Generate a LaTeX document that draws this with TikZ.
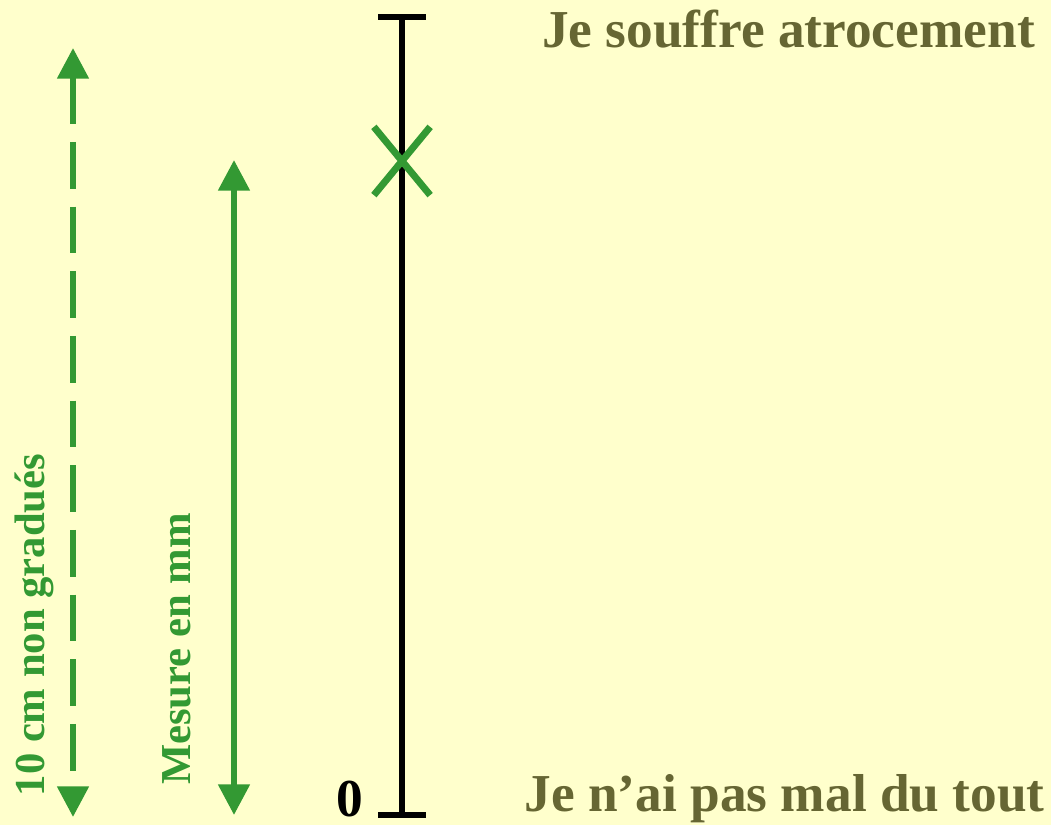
\documentclass[tikz,border=0pt]{standalone}
\usepackage{fontspec}
\setmainfont{Liberation Serif}
\usetikzlibrary{arrows.meta,shapes.misc}
\definecolor{paper}{HTML}{FFFFCC}
\definecolor{olive}{HTML}{666633}
\definecolor{leaf}{HTML}{339933}
\tikzset{
  every node/.style={inner sep=0pt, font=\fontsize{40}{48}\selectfont\bfseries},
  endlabel/.style={text=olive, anchor=base east},
  sidelabel/.style={text=leaf, rotate=90, anchor=base, font=\fontsize{32}{38}\selectfont\bfseries},
  scaleline/.style={draw=black, line width=4.5pt},
  span/.style={{Triangle[length=23pt,width=23pt]}-{Triangle[length=23pt,width=23pt]}, draw=leaf, line width=4.5pt},
  markx/.style={cross out, draw=leaf, line width=5.2pt, minimum width=37pt, minimum height=46pt},
}
\begin{document}
\begin{tikzpicture}[x=0.75pt, y=-0.75pt]
  \fill[paper] (0,0) rectangle (1051,825);
  \useasboundingbox (0,0) rectangle (1051,825);

  % the 10 cm scale
  \coordinate (top) at (402,17);
  \coordinate (bot) at (402,815);
  \draw[scaleline] (top) -- (bot);
  \draw[scaleline] ([xshift=-18pt]top) -- ([xshift=18pt]top);
  \draw[scaleline] ([xshift=-18pt]bot) -- ([xshift=18pt]bot);
  \node[markx] (mark) at (402,161) {};

  % ends of the scale
  \node[endlabel] (high) at (1035,47) {Je souffre atrocement};
  \node[endlabel] (low) at (1045,811) {Je n’ai pas mal du tout};
  \node[anchor=base] (zero) at (350,816) {0};

  % full length, dashed
  \coordinate (dtop) at (73,48);
  \coordinate (dbot) at (73,817);
  \draw[span, dash pattern=on 35pt off 13.5pt] (dtop) -- (dbot);
  \node[sidelabel] (len) at (45,625) {10 cm non gradués};

  % measured part, from 0 to the mark
  \coordinate (mtop) at (234,160);
  \coordinate (mbot) at (234,815);
  \draw[span] (mtop) -- (mbot);
  \node[sidelabel] (meas) at (190,649) {Mesure en mm};
\end{tikzpicture}
\end{document}
